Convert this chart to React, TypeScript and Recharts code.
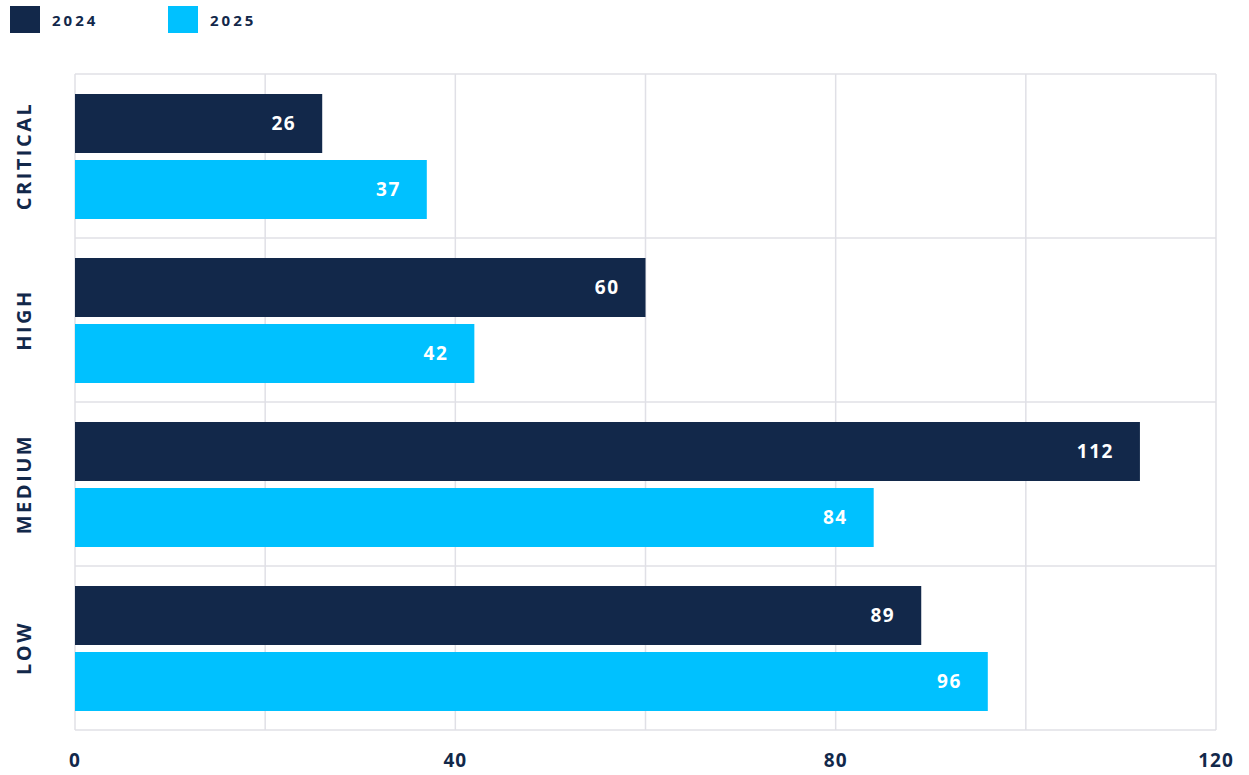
import { Bar, BarChart, CartesianGrid, LabelList, Legend, XAxis, YAxis } from "recharts"

const categories = ["CRITICAL", "HIGH", "MEDIUM", "LOW"]
const values2024 = [26, 60, 112, 89]
const values2025 = [37, 42, 84, 96]
const xTicks = [0, 20, 40, 60, 80, 100, 120]
const shownTicks = [0, 40, 80, 120]

const data = categories.map((name, i) => ({
  name,
  y2024: values2024[i],
  y2025: values2025[i],
}))

const navy = "#12284a"
const cyan = "#00c1ff"
const font = "'Open Sans', sans-serif"

function CategoryTick(props: any) {
  const { y, payload } = props
  return (
    <text
      x={31}
      y={y}
      transform={`rotate(-90, 31, ${y})`}
      textAnchor="middle"
      fill={navy}
      fontFamily={font}
      fontSize={20}
      fontWeight={700}
      letterSpacing={2.5}
    >
      {payload.value}
    </text>
  )
}

function TopLegend(props: any) {
  const { payload } = props
  return (
    <div style={{ display: "flex", position: "absolute", top: 6, left: 10 }}>
      {payload.map((p: any) => (
        <div key={p.value} style={{ display: "flex", alignItems: "center", width: 158 }}>
          <div style={{ width: 30, height: 27, background: p.color }} />
          <span
            style={{
              marginLeft: 12,
              color: navy,
              fontFamily: font,
              fontSize: 15,
              fontWeight: 700,
              letterSpacing: 3,
            }}
          >
            {p.value}
          </span>
        </div>
      ))}
    </div>
  )
}

const labelStyle = {
  fill: "#fff",
  fontFamily: font,
  fontSize: 19,
  fontWeight: 700,
  letterSpacing: 1.5,
}

export default function App() {
  return (
    <div style={{ position: "fixed", top: 0, left: 0, background: "#fff" }}>
      <BarChart
        width={1249}
        height={775}
        data={data}
        layout="vertical"
        margin={{ top: 74, right: 33, left: 0, bottom: 0 }}
        barSize={59}
        barGap={7}
      >
        <CartesianGrid
          stroke="#e0e0e6"
          strokeWidth={1.5}
          horizontalCoordinatesGenerator={({ offset }: any) =>
            categories
              .map((_, i) => offset.top + (offset.height * i) / categories.length)
              .concat(offset.top + offset.height)
          }
        />
        <XAxis
          type="number"
          domain={[0, 120]}
          ticks={xTicks}
          axisLine={false}
          tickLine={false}
          height={45}
          tickMargin={18}
          tickFormatter={(v) => (shownTicks.includes(v) ? String(v) : "")}
          tick={{ fill: navy, fontFamily: font, fontSize: 19, fontWeight: 700, letterSpacing: 1 }}
          interval={0}
        />
        <YAxis
          type="category"
          dataKey="name"
          width={75}
          axisLine={false}
          tickLine={false}
          tick={<CategoryTick />}
        />
        <Legend
          verticalAlign="top"
          content={<TopLegend />}
          wrapperStyle={{ top: 0, left: 0, width: 400, height: 0 }}
        />
        <Bar dataKey="y2024" name="2024" fill={navy} isAnimationActive={false}>
          <LabelList dataKey="y2024" position="insideRight" offset={26} {...labelStyle} />
        </Bar>
        <Bar dataKey="y2025" name="2025" fill={cyan} isAnimationActive={false}>
          <LabelList dataKey="y2025" position="insideRight" offset={26} {...labelStyle} />
        </Bar>
      </BarChart>
    </div>
  )
}
